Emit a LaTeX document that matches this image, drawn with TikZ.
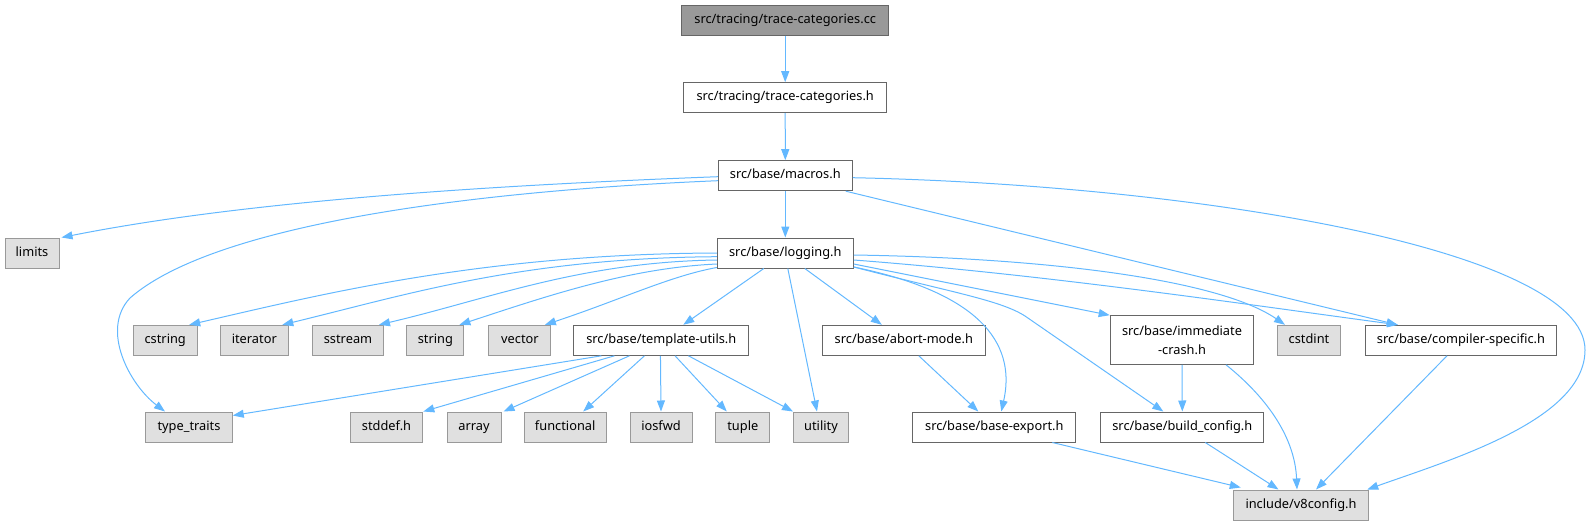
\documentclass[tikz,border=0pt]{standalone}
\usepackage{fontspec}
\setmainfont{Noto Sans}
\usetikzlibrary{arrows.meta}
\definecolor{edgeblue}{HTML}{63B8FF}
\definecolor{leaffill}{HTML}{E0E0E0}
\definecolor{leafdraw}{HTML}{999999}
\definecolor{boxdraw}{HTML}{666666}
\definecolor{topfill}{HTML}{999999}
\tikzset{
  basebox/.style={line width=1pt, minimum height=30pt, inner sep=0pt, text height=9.5pt, text depth=3pt, font=\fontsize{12.8}{15.5}\selectfont},
  filebox/.style={basebox, draw=boxdraw, fill=white},
  leafbox/.style={basebox, draw=leafdraw, fill=leaffill},
  topbox/.style={basebox, draw=boxdraw, fill=topfill},
  dep/.style={draw=edgeblue, line width=1pt, -{Triangle[length=11pt,width=8pt]}},
}
\begin{document}
\begin{tikzpicture}[x=1pt,y=-1pt]
\useasboundingbox (0,0) rectangle (1590,525);
% rank 0-2
\node[topbox, minimum width=207pt] (cc) at (785.2,20) {src/tracing/trace-categories.cc};
\node[filebox, minimum width=203pt] (tch) at (785.2,97.7) {src/tracing/trace-categories.h};
\node[filebox, minimum width=134pt] (macros) at (785.3,175.7) {src/base/macros.h};
\node[filebox, minimum width=136pt] (logging) at (785.3,253) {src/base/logging.h};
\node[leafbox, minimum width=54pt] (limits) at (32,253) {limits};
% rank 3
\node[leafbox, minimum width=64pt] (cstring) at (165.2,340.3) {cstring};
\node[leafbox, minimum width=68.6pt] (iterator) at (254.3,340.3) {iterator};
\node[leafbox, minimum width=71pt] (sstream) at (348,340.3) {sstream};
\node[leafbox, minimum width=57pt] (string) at (435.4,340.3) {string};
\node[leafbox, minimum width=62pt] (vector) at (519.9,340.3) {vector};
\node[filebox, minimum width=174.7pt] (tutils) at (661.3,340.3) {src/base/template-utils.h};
\node[filebox, minimum width=163.5pt] (abort) at (903.8,340.3) {src/base/abort-mode.h};
\node[draw=boxdraw, fill=white, line width=1pt, inner sep=0pt, font=\fontsize{12.8}{19}\selectfont, minimum width=143.6pt, minimum height=48.6pt, align=center] (crash) at (1182,340) {src/base/immediate\\-crash.h};
\node[leafbox, minimum width=62.4pt] (cstdint) at (1309,340.3) {cstdint};
\node[filebox, minimum width=191.8pt] (compiler) at (1461,340.3) {src/base/compiler-specific.h};
% rank 4
\node[leafbox, minimum width=86.5pt] (typetraits) at (189,427) {type\_traits};
\node[leafbox, minimum width=72.6pt] (stddef) at (386.5,427) {stddef.h};
\node[leafbox, minimum width=54pt] (array) at (474,427) {array};
\node[leafbox, minimum width=82pt] (functional) at (565.2,427) {functional};
\node[leafbox, minimum width=62pt] (iosfwd) at (661,427) {iosfwd};
\node[leafbox, minimum width=53.7pt] (tuple) at (742.8,427) {tuple};
\node[leafbox, minimum width=55pt] (utility) at (821,427) {utility};
\node[filebox, minimum width=163pt] (baseexport) at (994.3,427) {src/base/base-export.h};
\node[filebox, minimum width=163pt] (buildconfig) at (1182.3,427) {src/base/build\_config.h};
% rank 5
\node[leafbox, minimum width=135.5pt] (v8config) at (1301,505) {include/v8config.h};

% edges
\draw[dep] (cc) -- (tch);
\draw[dep] (tch) -- (macros);
\draw[dep] (macros) -- (logging);
\draw[dep] ([yshift=-1pt]macros.west) .. controls (500,185) and (250,200) .. ([xshift=2pt]limits.north east);
\draw[dep] ([yshift=-5pt]macros.west) .. controls (450,192) and (210,228) .. (130,298) .. controls (100,330) and (130,385) .. ([xshift=-24pt]typetraits.north);
\draw[dep] ([xshift=-7pt]macros.south east) -- ([xshift=33pt]compiler.north west);
\draw[dep] ([yshift=-2pt]macros.east) .. controls (1200,185) and (1585,250) .. (1585,350) .. controls (1585,420) and (1450,460) .. ([xshift=-2pt]v8config.north east);

\draw[dep] (logging.west) .. controls (480,254) and (319,295) .. ([xshift=24pt]cstring.north);
\draw[dep] ([yshift=-3.7pt]logging.west) .. controls (520,258) and (402,296) .. ([xshift=28pt]iterator.north);
\draw[dep] ([yshift=-7pt]logging.west) .. controls (580,262) and (489,299) .. ([xshift=31pt]sstream.north);
\draw[dep] ([yshift=-11pt]logging.west) .. controls (630,268) and (550,295) .. ([xshift=24pt]string.north);
\draw[dep] ([yshift=1pt]logging.south west) .. controls (670,276) and (620,300) .. ([xshift=25pt]vector.north);
\draw[dep] ([xshift=47pt]logging.south west) -- ([xshift=22pt]tutils.north);
\draw[dep] ([xshift=71pt]logging.south west) -- ([xshift=-4pt]utility.north);
\draw[dep] ([xshift=88pt]logging.south west) -- ([xshift=-22pt]abort.north);
\draw[dep] ([yshift=1.5pt]logging.south east) .. controls (990,295) and (1015,350) .. ([xshift=7pt]baseexport.north);
\draw[dep] ([yshift=1.5pt]logging.south east) .. controls (950,292) and (1000,300) .. (1025,316) -- ([xshift=-19pt]buildconfig.north);
\draw[dep] ([yshift=4.5pt]logging.south east) -- (crash.north west);
\draw[dep] ([yshift=-2pt]logging.east) .. controls (1050,258) and (1220,280) .. ([xshift=-24pt]cstdint.north);
\draw[dep] ([yshift=-7pt]logging.east) .. controls (1050,275) and (1250,305) .. ([xshift=-63pt]compiler.north);

\draw[dep] ([xshift=28pt]tutils.south west) -- ([yshift=-4pt]typetraits.north east);
\draw[dep] ([xshift=41pt]tutils.south west) -- (stddef.north east);
\draw[dep] ([xshift=56pt]tutils.south west) -- ([xshift=2pt]array.north east);
\draw[dep] ([xshift=71pt]tutils.south west) -- ([xshift=18pt]functional.north);
\draw[dep] ([xshift=87pt]tutils.south west) -- (iosfwd.north);
\draw[dep] ([xshift=101.6pt]tutils.south west) -- ([xshift=-16pt]tuple.north);
\draw[dep] ([xshift=115pt]tutils.south west) -- (utility.north west);

\draw[dep] ([xshift=15pt]abort.south) -- ([xshift=-16pt]baseexport.north);
\draw[dep] (crash.south) -- (buildconfig.north);
\draw[dep] ([xshift=44pt]crash.south) .. controls (1270,400) and (1295,440) .. ([xshift=-4pt]v8config.north);
\draw[dep] ([xshift=23pt]buildconfig.south) -- ([xshift=-22.5pt]v8config.north);
\draw[dep] ([xshift=58pt]baseexport.south) -- ([xshift=8pt,yshift=2pt]v8config.north west);
\draw[dep] ([xshift=-14pt]compiler.south) -- ([xshift=15pt]v8config.north);
\end{tikzpicture}
\end{document}
